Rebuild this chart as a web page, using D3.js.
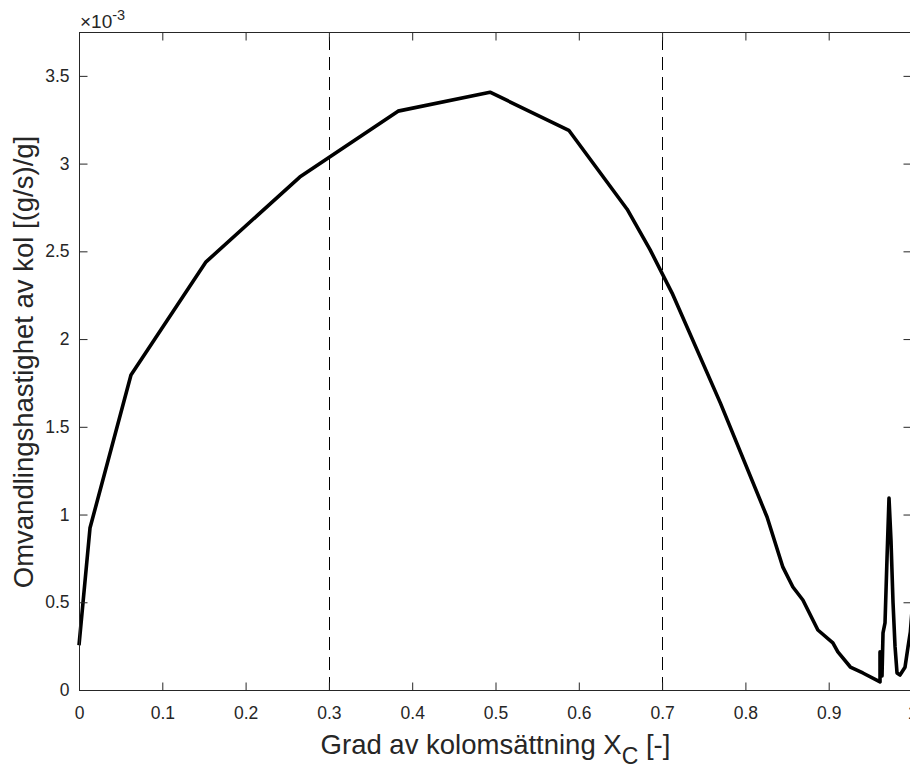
<!DOCTYPE html>
<html>
<head>
<meta charset="utf-8">
<script src="https://cdn.jsdelivr.net/npm/d3@7"></script>
<style>
  html, body { margin: 0; padding: 0; background: #fff; }
  svg { display: block; font-family: "Liberation Sans", Arial, Helvetica, sans-serif; }
</style>
</head>
<body>
<svg id="chart" width="910" height="769"></svg>
<script>
// ---- data (rate in units of 1e-3 (g/s)/g) ----
const conversionX = [0, 0.0132, 0.0624, 0.1525, 0.265, 0.383, 0.4934, 0.588, 0.658, 0.6855, 0.712, 0.77, 0.826, 0.845, 0.857, 0.869, 0.887, 0.905, 0.911, 0.926, 0.941, 0.9616, 0.9616, 0.964, 0.9652, 0.9676, 0.970, 0.9724, 0.9748, 0.9772, 0.9796, 0.982, 0.9856, 0.9916, 0.9952, 0.998, 1.0];
const rateY =       [0.255, 0.923, 1.795, 2.44, 2.923, 3.299, 3.407, 3.19, 2.74, 2.51, 2.262, 1.635, 0.986, 0.70, 0.587, 0.513, 0.342, 0.268, 0.217, 0.131, 0.097, 0.046, 0.217, 0.08, 0.325, 0.382, 0.75, 1.094, 0.85, 0.50, 0.25, 0.097, 0.085, 0.13, 0.245, 0.33, 0.45];
const refLinesX = [0.3, 0.7];
const xTicks = [0, 0.1, 0.2, 0.3, 0.4, 0.5, 0.6, 0.7, 0.8, 0.9, 1];
const xTickLabels = ["0", "0.1", "0.2", "0.3", "0.4", "0.5", "0.6", "0.7", "0.8", "0.9", "1"];
const yTicks = [0, 0.5, 1, 1.5, 2, 2.5, 3, 3.5];
const yTickLabels = ["0", "0.5", "1", "1.5", "2", "2.5", "3", "3.5"];
const xDomain = [0, 1];
const yDomain = [0, 3.75];
const xLabel = "Grad av kolomsättning X";
const xLabelSub = "C";
const xLabelEnd = " [-]";
const yLabel = "Omvandlingshastighet av kol [(g/s)/g]";

(function () {
const svg = d3.select("#chart");
const L = 79, R = 912, T = 32, B = 690;
const axisColor = "#262626";
const x = d3.scaleLinear().domain(xDomain).range([L, R]);
const y = d3.scaleLinear().domain(yDomain).range([B, T]);
const tickLen = 8;
const tickFont = "17.5px";
const labelFont = "27.5px";

svg.append("rect").attr("width", 910).attr("height", 769).attr("fill", "#fff");

// dashed reference lines
svg.selectAll("line.ref").data(refLinesX).enter().append("line")
  .attr("class", "ref")
  .attr("x1", d => Math.round(x(d)) + 0.5).attr("x2", d => Math.round(x(d)) + 0.5)
  .attr("y1", y(yDomain[0])).attr("y2", y(yDomain[1]))
  .attr("stroke", "#000").attr("stroke-width", 1)
  .attr("stroke-dasharray", "13,7");

// curve
const pts = conversionX.map((v, i) => [v, rateY[i]]);
svg.append("clipPath").attr("id", "clip").append("rect")
  .attr("x", L - 2).attr("y", T).attr("width", R - L + 2).attr("height", B - T);
svg.append("path")
  .datum(pts)
  .attr("clip-path", "url(#clip)")
  .attr("fill", "none")
  .attr("stroke", "#000")
  .attr("stroke-width", 3.6)
  .attr("stroke-linejoin", "round")
  .attr("d", d3.line().x(d => x(d[0])).y(d => y(d[1])));

// axes (MATLAB-like box with inward ticks)
const axB = d3.axisBottom(x).tickValues(xTicks).tickSize(-tickLen).tickPadding(16)
  .tickFormat((d, i) => xTickLabels[i]);
const axT = d3.axisTop(x).tickValues(xTicks).tickSize(-tickLen).tickFormat("");
const axL = d3.axisLeft(y).tickValues(yTicks).tickSize(-tickLen).tickPadding(10)
  .tickFormat((d, i) => yTickLabels[i]);
const axR = d3.axisRight(y).tickValues(yTicks).tickSize(-tickLen).tickFormat("");

function styleAxis(g) {
  g.select(".domain").attr("stroke", axisColor);
  g.selectAll(".tick line").attr("stroke", axisColor);
  g.selectAll("text").attr("fill", axisColor).style("font-size", tickFont)
    .style("font-family", '"Liberation Sans", Arial, Helvetica, sans-serif');
}
svg.append("g").attr("transform", `translate(0,${B + 0.5})`).call(axB).call(styleAxis)
  .call(g => g.select(".domain").attr("d", `M${L},0H${R}`));
svg.append("g").attr("transform", `translate(0,${T + 0.5})`).call(axT).call(styleAxis)
  .call(g => g.select(".domain").attr("d", `M${L},0H${R}`));
svg.append("g").attr("transform", `translate(${L + 0.5},0)`).call(axL).call(styleAxis)
  .call(g => g.select(".domain").attr("d", `M0,${T}V${B}`));
svg.append("g").attr("transform", `translate(${R - 0.5},0)`).call(axR).call(styleAxis)
  .call(g => g.select(".domain").attr("d", `M0,${T}V${B}`));

// exponent label
const exp = svg.append("text").attr("x", 80).attr("y", 28).attr("fill", axisColor)
  .style("font-size", "19px");
exp.append("tspan").text("×10");
exp.append("tspan").attr("dy", -8).style("font-size", "14.5px").text("-3");

// x label
const xl = svg.append("text").attr("x", (L + R) / 2).attr("y", 754)
  .attr("text-anchor", "middle").attr("fill", axisColor).style("font-size", labelFont);
xl.append("tspan").text(xLabel);
xl.append("tspan").attr("dy", 10).style("font-size", "23px").text(xLabelSub);
xl.append("tspan").attr("dy", -10).text(xLabelEnd);

// y label
svg.append("text")
  .attr("transform", `translate(33,${(T + B) / 2 + 1}) rotate(-90)`)
  .attr("text-anchor", "middle").attr("fill", axisColor).style("font-size", labelFont)
  .text(yLabel);
})();
</script>
</body>
</html>
